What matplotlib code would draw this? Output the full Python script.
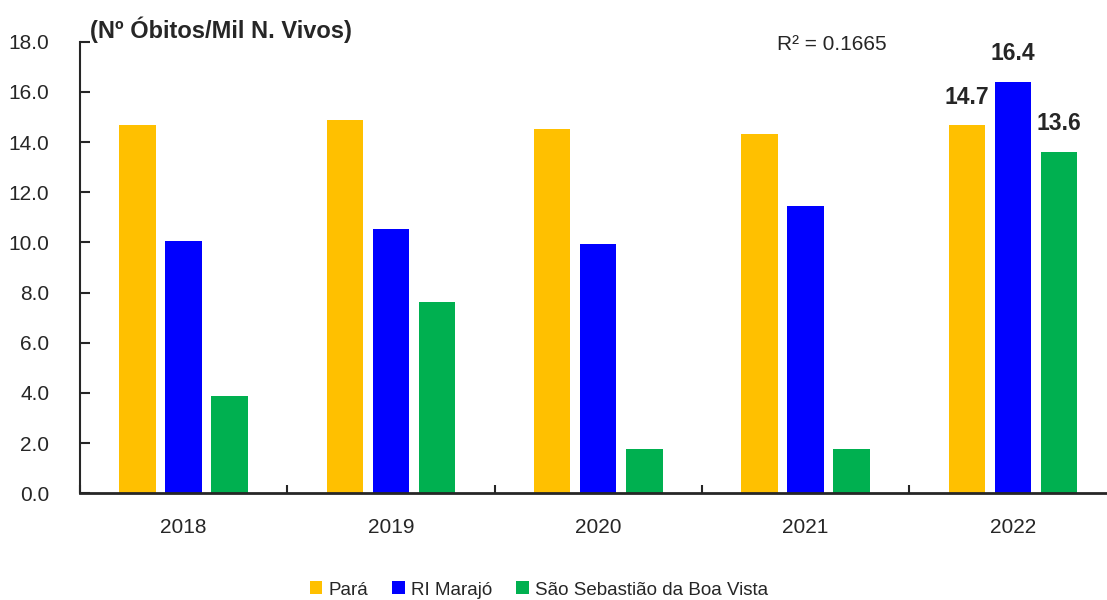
import matplotlib
matplotlib.use("Agg")
import matplotlib.pyplot as plt
import numpy as np
from matplotlib.ticker import FixedLocator, NullFormatter
from matplotlib.font_manager import FontProperties

years = ["2018", "2019", "2020", "2021", "2022"]
para = [14.66, 14.86, 14.54, 14.33, 14.66]
marajo = [10.04, 10.52, 9.92, 11.45, 16.4]
ssbv = [3.86, 7.61, 1.75, 1.78, 13.6]
series_names = ["Pará", "RI Marajó", "São Sebastião da Boa Vista"]
colors = ["#FFC000", "#0000FF", "#00B050"]
labels_2022 = ["14.7", "16.4", "13.6"]
r2_text = "R² = 0.1665"
y_title = "(Nº Óbitos/Mil N. Vivos)"

FONT = ["Liberation Sans", "DejaVu Sans"]
plt.rcParams['font.family'] = FONT
TXT = "#262626"

fig = plt.figure(figsize=(11.07, 6.0), dpi=100)
ax = fig.add_axes([80/1107, 1-493.3/600, (1116.5-80)/1107, (493.3-41.7)/600])

x = np.arange(len(years))
w = 0.176
off = 0.222
all_series = [para, marajo, ssbv]
for i, (vals, c, name) in enumerate(zip(all_series, colors, series_names)):
    ax.bar(x + (i-1)*off, vals, width=w, color=c, label=name, zorder=2)
    ax.annotate(labels_2022[i], (x[-1] + (i-1)*off, vals[-1]), xytext=(0, 12),
                textcoords="offset points", ha="center", va="bottom",
                fontsize=16.5, fontweight="bold", color=TXT)

ax.set_xlim(-0.5, len(years)-0.5)
ax.set_ylim(0, 18)
ax.set_yticks(np.arange(0, 18.1, 2))
ax.set_yticklabels([f"{v:.1f}" for v in np.arange(0, 18.1, 2)])
ax.set_xticks(x)
ax.set_xticklabels(years)
ax.xaxis.set_minor_locator(FixedLocator(np.arange(-0.5, len(years), 1)))
ax.xaxis.set_minor_formatter(NullFormatter())
ax.tick_params(axis="x", which="major", length=0, pad=18, labelsize=15, colors=TXT)
ax.tick_params(axis="x", which="minor", length=6, width=1.5, direction="in", color=TXT)
ax.tick_params(axis="y", length=7, width=1.5, direction="in", pad=22, labelsize=15, colors=TXT)
for s in ["top", "right"]:
    ax.spines[s].set_visible(False)
ax.spines["left"].set_linewidth(1.5)
ax.spines["bottom"].set_linewidth(2.0)
ax.spines["left"].set_color(TXT)
ax.spines["bottom"].set_color(TXT)

fig.text(90/1107, 1-30/600, y_title, ha="left", va="center", fontsize=17,
         fontweight="bold", color=TXT)
fig.text(777/1107, 1-45/600, r2_text, ha="left", va="center", fontsize=15, color=TXT)

leg_font = FontProperties(family=["Liberation Sans", "DejaVu Sans"], size=13.5)
leg = fig.legend(loc="center", bbox_to_anchor=(539/1107, 1-590/600), ncol=3, frameon=False,
                 prop=leg_font, handlelength=0.68, handleheight=0.68, handletextpad=0.35,
                 columnspacing=1.25, labelcolor=TXT)

fig.savefig("out.png", dpi=100)
